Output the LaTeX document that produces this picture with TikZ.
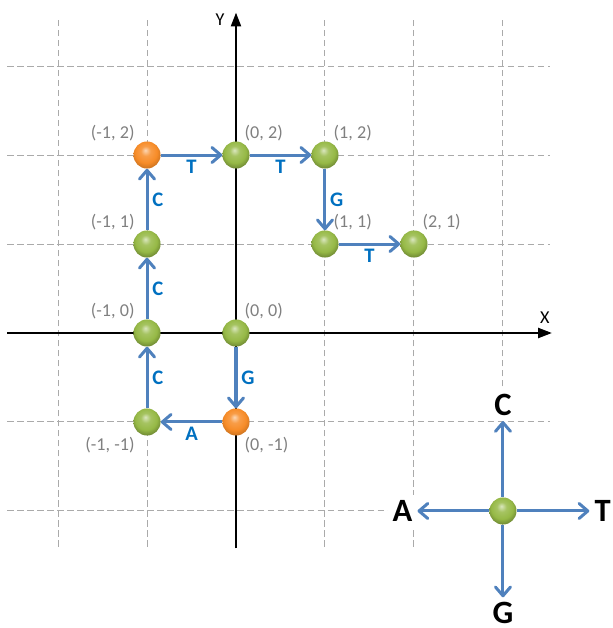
\documentclass[tikz,border=0pt]{standalone}
\usepackage{fontspec}
\setmainfont{Carlito}
\usetikzlibrary{arrows.meta}
\definecolor{gridgray}{RGB}{170,170,170}
\definecolor{labgray}{RGB}{128,128,128}
\definecolor{stepblue}{RGB}{79,129,189}
\definecolor{letterblue}{RGB}{0,112,192}
\definecolor{ballgreen}{RGB}{150,185,70}
\definecolor{ballorange}{RGB}{247,140,40}
\pgfdeclareradialshading{greenball}{\pgfpoint{-3bp}{9bp}}{color(0bp)=(ballgreen!35!white); color(9bp)=(ballgreen!85!white); color(20bp)=(ballgreen); color(30bp)=(ballgreen!70!black); color(36bp)=(ballgreen!55!black); color(50bp)=(ballgreen!55!black)}
\pgfdeclareradialshading{orangeball}{\pgfpoint{-3bp}{9bp}}{color(0bp)=(ballorange!35!white); color(9bp)=(ballorange!85!white); color(20bp)=(ballorange); color(30bp)=(ballorange!80!black); color(36bp)=(ballorange!65!black); color(50bp)=(ballorange!65!black)}
\tikzset{
  ball/.style={circle, minimum size=0.76cm, inner sep=0pt, shade, shading=greenball},
  turnball/.style={ball, shading=orangeball},
  gridline/.style={gridgray, line width=0.8pt, dash pattern=on 5pt off 3pt},
  axis/.style={line width=1.6pt, -{Triangle[length=11pt,width=8pt]}},
  axlab/.style={font=\fontsize{14.5}{17}\selectfont},
  move/.style={stepblue, line width=2.4pt, -{Straight Barb[length=7pt,width=12pt,round]}},
  movelab/.style={letterblue, inner sep=3pt, font=\fontsize{16.5}{20}\selectfont\bfseries},
  baselab/.style={fill=white, inner sep=4pt, font=\fontsize{26}{31}\selectfont\bfseries},
  coordlab/.style={labgray, inner sep=0pt, font=\fontsize{14.5}{17}\selectfont},
  ul/.style={label={[coordlab, anchor=south east, xshift=-2pt, yshift=3pt]north west:{#1}}},
  ur/.style={label={[coordlab, anchor=south west, xshift=-1pt, yshift=3pt]north east:{#1}}},
  dl/.style={label={[coordlab, anchor=north east, xshift=-2pt, yshift=-4pt]south west:{#1}}},
  dr/.style={label={[coordlab, anchor=north west, xshift=-1pt, yshift=-4pt]south east:{#1}}},
}
\begin{document}
\begin{tikzpicture}[x=2.5cm, y=2.5cm]
  \useasboundingbox (-2.652,-3.315) rectangle (4.236,3.742);
  % grid
  \foreach \k in {-2,-1,1,2,3} {
    \draw[gridline] (\k,-2.40) -- (\k,3.55);
    \draw[gridline] (-2.57,\k) -- (3.53,\k);
  }
  % axes
  \draw[axis] (-2.57,0) -- (3.55,0);
  \draw[axis] (0,-2.42) -- (0,3.6);
  \node[axlab] (xlab) at (3.47,0.17) {X};
  \node[axlab] (ylab) at (-0.18,3.52) {Y};
  % walk
  \node[ball, ur={(0, 0)}] (s0) at (0,0) {};
  \node[turnball, dr={(0, -1)}] (s1) at (0,-1) {};
  \node[ball, dl={(-1, -1)}] (s2) at (-1,-1) {};
  \node[ball, ul={(-1, 0)}] (s3) at (-1,0) {};
  \node[ball, ul={(-1, 1)}] (s4) at (-1,1) {};
  \node[turnball, ul={(-1, 2)}] (s5) at (-1,2) {};
  \node[ball, ur={(0, 2)}] (s6) at (0,2) {};
  \node[ball, ur={(1, 2)}] (s7) at (1,2) {};
  \node[ball, ur={(1, 1)}] (s8) at (1,1) {};
  \node[ball, ur={(2, 1)}] (s9) at (2,1) {};
  \draw[move] (s0) -- node[movelab, right] {G} (s1);
  \draw[move] (s1) -- node[movelab, below] {A} (s2);
  \draw[move] (s2) -- node[movelab, right] {C} (s3);
  \draw[move] (s3) -- node[movelab, right] {C} (s4);
  \draw[move] (s4) -- node[movelab, right] {C} (s5);
  \draw[move] (s5) -- node[movelab, below] {T} (s6);
  \draw[move] (s6) -- node[movelab, below] {T} (s7);
  \draw[move] (s7) -- node[movelab, right] {G} (s8);
  \draw[move] (s8) -- node[movelab, below] {T} (s9);
  % legend
  \node[ball] (L) at (3,-2) {};
  \node[baselab] (lC) at (3,-0.81) {C};
  \node[baselab] (lG) at (3,-3.15) {G};
  \node[baselab] (lA) at (1.87,-2) {A};
  \node[baselab] (lT) at (4.12,-2) {T};
  \foreach \t in {lC,lG,lA,lT}
    \draw[move] (L) -- (\t);
\end{tikzpicture}
\end{document}
